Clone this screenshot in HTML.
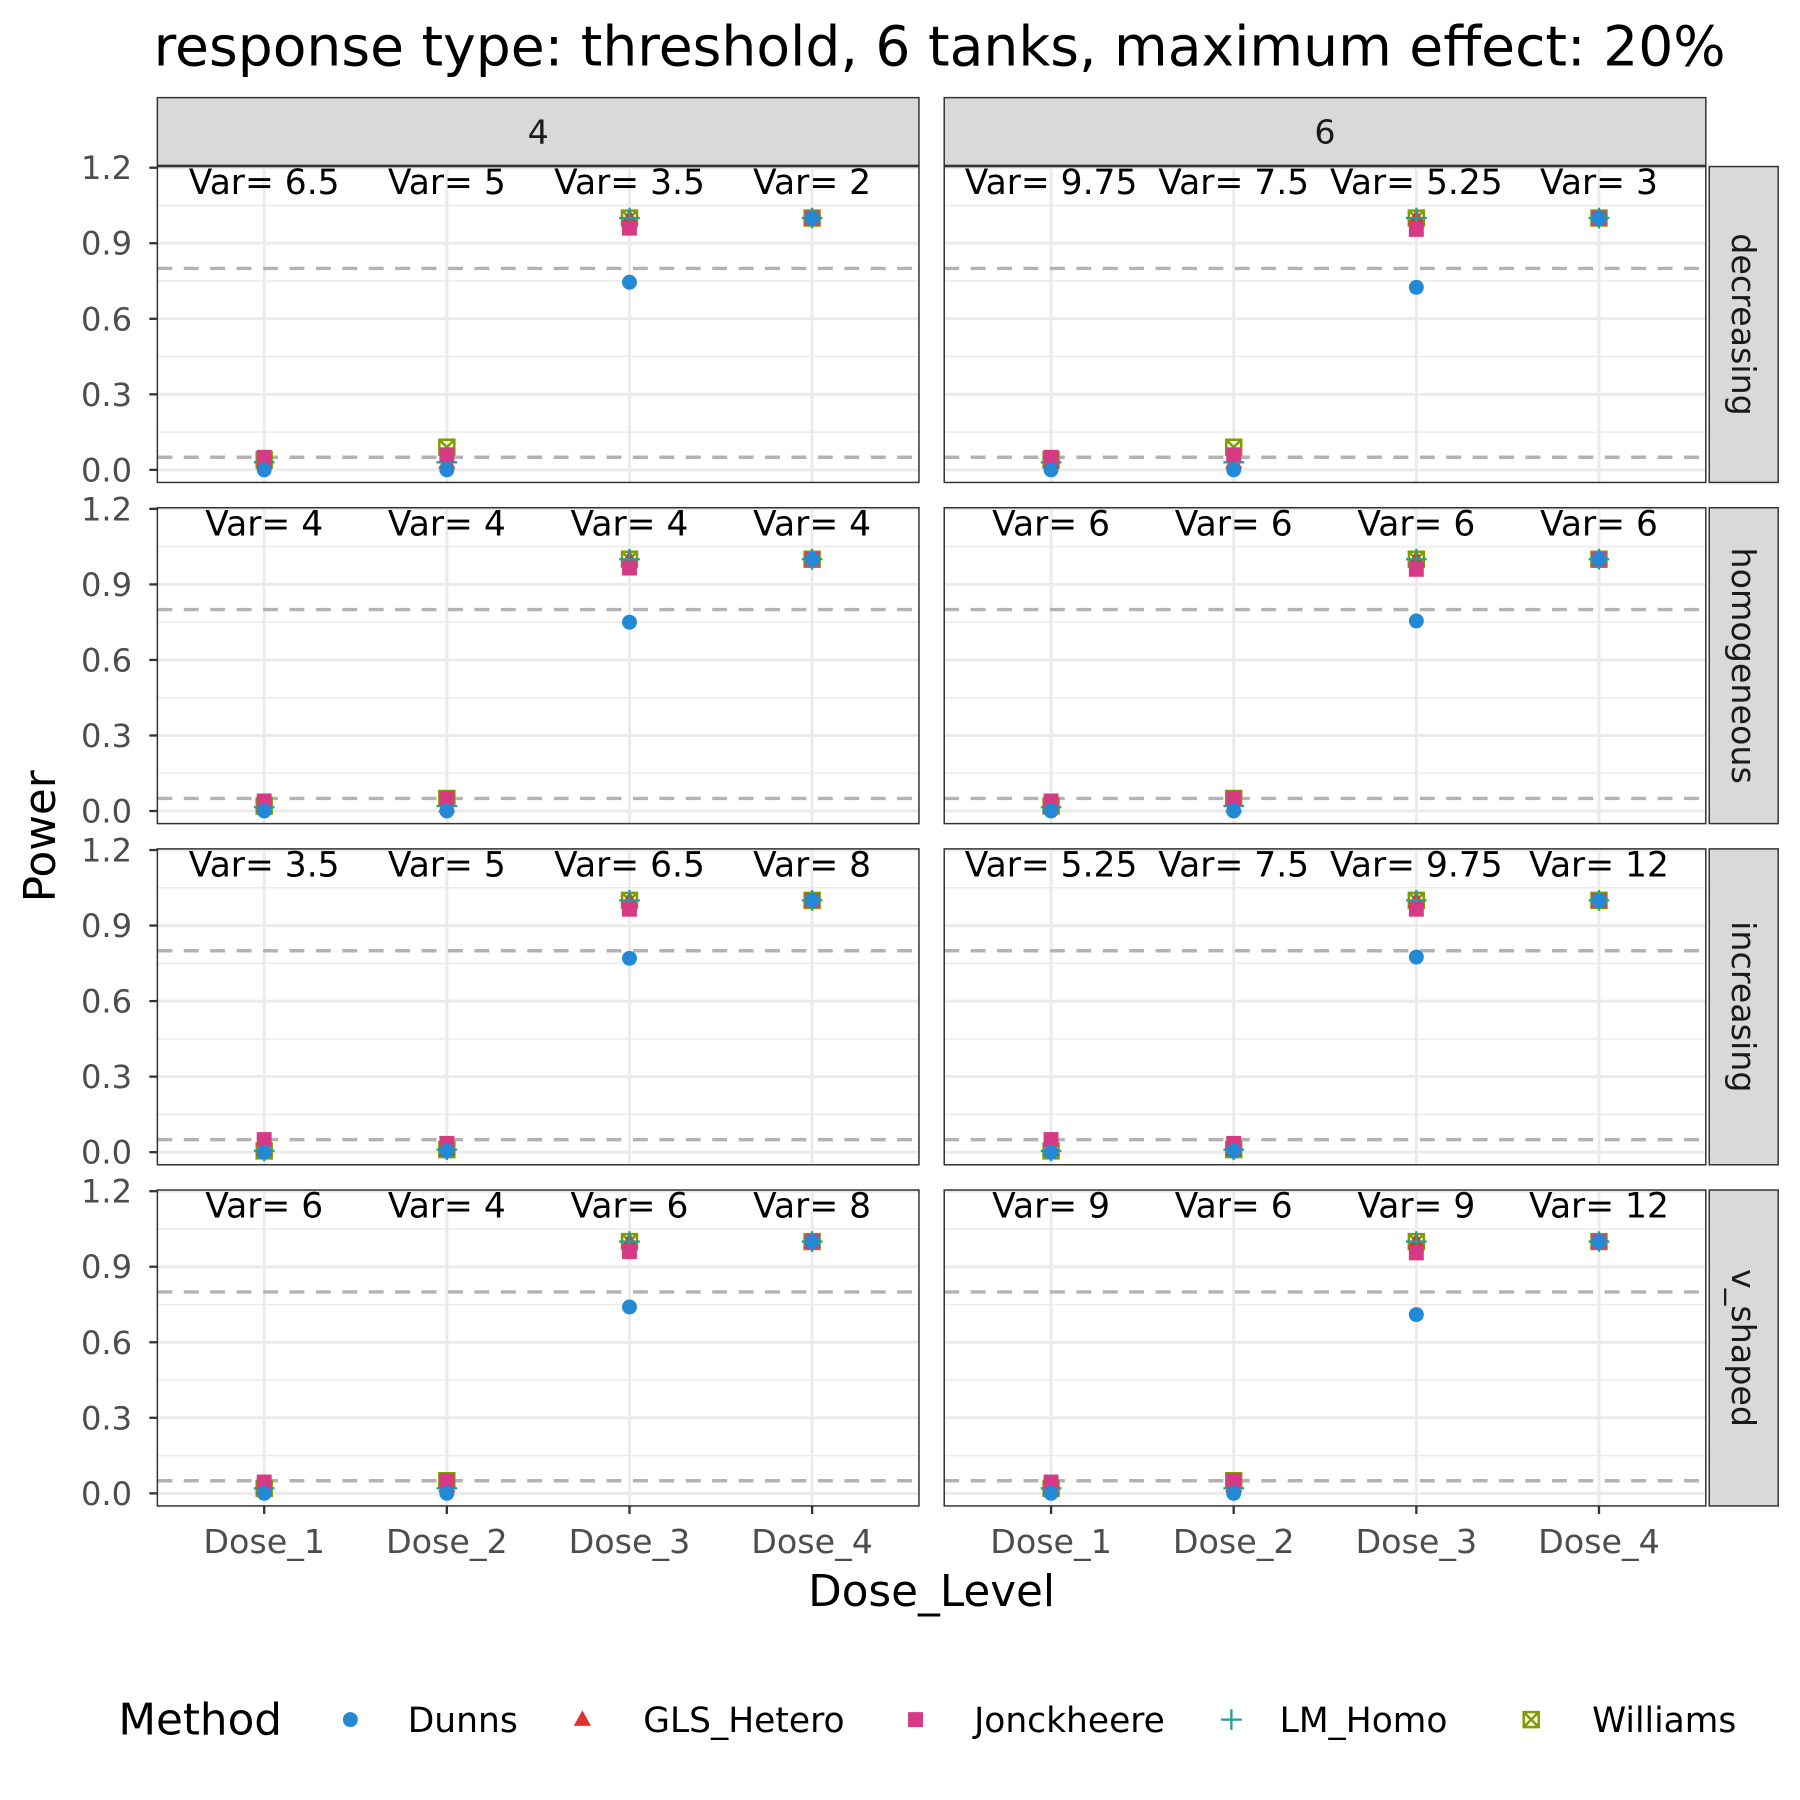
<!DOCTYPE html>
<html><head><meta charset="utf-8"><style>
html,body{margin:0;padding:0;background:#fff;}
svg{display:block;font-family:"DejaVu Sans","Liberation Sans",sans-serif;}
</style></head><body>
<svg id="chart" width="1800" height="1800" viewBox="0 0 1567 1567" xmlns="http://www.w3.org/2000/svg">
<text x="818" y="57" font-size="48" text-anchor="middle" fill="#000">response type: threshold, 6 tanks, maximum effect: 20%</text>
<text transform="translate(48,728) rotate(-90)" font-size="38" text-anchor="middle">Power</text>
<text x="811" y="1398" font-size="38" text-anchor="middle">Dose_Level</text>
<g id="panels"></g>
<g id="legend"></g>
</svg>
<script>
const doses = ["Dose_1","Dose_2","Dose_3","Dose_4"];
const colLabels = ["4","6"];
const rowLabels = ["decreasing","homogeneous","increasing","v_shaped"];
const yTicks = [0,0.3,0.6,0.9,1.2];
const yTickLabels = ["0.0","0.3","0.6","0.9","1.2"];
const yMinor = [0.15,0.45,0.75,1.05];
const refLines = [0.8,0.05];
// panel order: dec-4, dec-6, hom-4, hom-6, inc-4, inc-6, v-4, v-6
const varLabels = [
 ["Var= 6.5","Var= 5","Var= 3.5","Var= 2"],
 ["Var= 9.75","Var= 7.5","Var= 5.25","Var= 3"],
 ["Var= 4","Var= 4","Var= 4","Var= 4"],
 ["Var= 6","Var= 6","Var= 6","Var= 6"],
 ["Var= 3.5","Var= 5","Var= 6.5","Var= 8"],
 ["Var= 5.25","Var= 7.5","Var= 9.75","Var= 12"],
 ["Var= 6","Var= 4","Var= 6","Var= 8"],
 ["Var= 9","Var= 6","Var= 9","Var= 12"]
];
const dunns = [[0,0,0.745,1],[0,0,0.725,1],[0,0,0.75,1],[0,0,0.755,1],[0,0.005,0.77,1],[0,0.005,0.775,1],[0,0,0.74,1],[0,0,0.71,1]];
const glsHetero = [[0.03,0.03,1,1],[0.03,0.03,1,1],[0.02,0.02,1,1],[0.02,0.02,1,1],[0.01,0.01,1,1],[0.01,0.01,1,1],[0.02,0.03,1,1],[0.02,0.03,1,1]];
const jonckheere = [[0.05,0.06,0.96,1],[0.05,0.06,0.955,1],[0.04,0.05,0.965,1],[0.04,0.05,0.96,1],[0.05,0.035,0.965,1],[0.05,0.035,0.965,1],[0.045,0.05,0.96,1],[0.045,0.05,0.955,1]];
const lmHomo = [[0.03,0.03,1,1],[0.03,0.03,1,1],[0.015,0.02,1,1],[0.015,0.02,1,1],[0.005,0.01,1,1],[0.005,0.01,1,1],[0.02,0.02,1,1],[0.02,0.02,1,1]];
const williams = [[0.04,0.09,1,1],[0.04,0.09,1,1],[0.02,0.05,1,1],[0.02,0.05,1,1],[0.005,0.01,1,1],[0.005,0.01,1,1],[0.02,0.05,1,1],[0.02,0.05,1,1]];

const NS="http://www.w3.org/2000/svg";
function mk(tag,attrs,parent){const e=document.createElementNS(NS,tag);for(const k in attrs)e.setAttribute(k,attrs[k]);parent.appendChild(e);return e;}
const colX=[137,822], panelW=663, rowY=[145,442,739,1036], panelH=275;
function xScale(c,i){return colX[c]+93+i*159;}
function yScale(r,v){return rowY[r]+1+(1.2-v)*219.2;}
const COL={d:"#2389d5",g:"#e0322a",j:"#d63a84",l:"#22a095",w:"#7f9c00"};

function drawDot(g,x,y){const e=mk("circle",{cx:x,cy:y,r:6.5,fill:COL.d},g);}
function drawTri(g,x,y){const e=mk("polygon",{points:`${x},${y-8} ${x-7.5},${y+5.5} ${x+7.5},${y+5.5}`,fill:COL.g},g);}
function drawSq(g,x,y){const e=mk("rect",{x:x-6.5,y:y-6.5,width:13,height:13,fill:COL.j},g);}
function drawPlus(g,x,y){const e=mk("path",{d:`M${x-9},${y}H${x+9}M${x},${y-9}V${y+9}`,stroke:COL.l,"stroke-width":2,fill:"none"},g);}
function drawBox(g,x,y){const e=mk("path",{d:`M${x-6.5},${y-6.5}h13v13h-13zM${x-6.5},${y-6.5}L${x+6.5},${y+6.5}M${x+6.5},${y-6.5}L${x-6.5},${y+6.5}`,stroke:COL.w,"stroke-width":2.2,fill:"none"},g);}

const root=document.getElementById("panels");
for(let c=0;c<2;c++){
  const s=mk("g",{},root);
  
  
  mk("rect",{x:colX[c],y:85,width:panelW,height:59,fill:"#d9d9d9",stroke:"#333","stroke-width":1.3},s);
  mk("text",{x:colX[c]+panelW/2,y:125,"font-size":29,"text-anchor":"middle",fill:"#1a1a1a"},s).textContent=colLabels[c];
}
for(let r=0;r<4;r++){
  const s=mk("g",{},root);
  
  
  mk("rect",{x:1488,y:rowY[r],width:60,height:panelH,fill:"#d9d9d9",stroke:"#333","stroke-width":1.3},s);
  mk("text",{transform:`translate(1508,${rowY[r]+panelH/2}) rotate(90)`,"font-size":29,"text-anchor":"middle",fill:"#1a1a1a"},s).textContent=rowLabels[r];
  const ya=mk("g",{},root);
  
  
  yTicks.forEach((v,i)=>{
    const y=yScale(r,v);
    mk("line",{x1:130,x2:137,y1:y,y2:y,stroke:"#333","stroke-width":2},ya);
    mk("text",{x:115,y:y+10,"font-size":28,"text-anchor":"end",fill:"#4d4d4d"},ya).textContent=yTickLabels[i];
  });
  for(let c=0;c<2;c++){
    const p=r*2+c;
    const g=mk("g",{},root);
    
    
    mk("rect",{x:colX[c],y:rowY[r],width:panelW,height:panelH,fill:"#fff"},g);
    yMinor.forEach(v=>mk("line",{x1:colX[c],x2:colX[c]+panelW,y1:yScale(r,v),y2:yScale(r,v),stroke:"#ebebeb","stroke-width":1.3},g));
    yTicks.forEach(v=>mk("line",{x1:colX[c],x2:colX[c]+panelW,y1:yScale(r,v),y2:yScale(r,v),stroke:"#ebebeb","stroke-width":2.6},g));
    doses.forEach((d,i)=>mk("line",{x1:xScale(c,i),x2:xScale(c,i),y1:rowY[r],y2:rowY[r]+panelH,stroke:"#ebebeb","stroke-width":2.6},g));
    refLines.forEach(v=>{const l=mk("line",{x1:colX[c],x2:colX[c]+panelW,y1:yScale(r,v),y2:yScale(r,v),stroke:"#b3b3b3","stroke-width":3,"stroke-dasharray":"13,10"},g);});
    doses.forEach((d,i)=>{
      const x=xScale(c,i);
      const t=mk("text",{x:x,y:rowY[r]+24,"font-size":30,"text-anchor":"middle",fill:"#000"},g);
      
      
      t.textContent=varLabels[p][i];
      drawBox(g,x,yScale(r,williams[p][i]));
      drawTri(g,x,yScale(r,glsHetero[p][i]));
      drawPlus(g,x,yScale(r,lmHomo[p][i]));
      drawSq(g,x,yScale(r,jonckheere[p][i]));
      drawDot(g,x,yScale(r,dunns[p][i]));
    });
    mk("rect",{x:colX[c],y:rowY[r],width:panelW,height:panelH,fill:"none",stroke:"#333","stroke-width":1.3},g);
    if(r===3){
      const xa=mk("g",{},root);
      
      
      doses.forEach((d,i)=>{
        const x=xScale(c,i);
        mk("line",{x1:x,x2:x,y1:1311,y2:1318,stroke:"#333","stroke-width":2},xa);
        mk("text",{x:x,y:1352,"font-size":29,"text-anchor":"middle",fill:"#4d4d4d"},xa).textContent=d;
      });
    }
  }
}
const lg=document.getElementById("legend");
mk("text",{x:103,y:1510,"font-size":38,fill:"#000"},lg).textContent="Method";
const legendItems=[["Dunns",drawDot,305,355],["GLS_Hetero",drawTri,507,560],["Jonckheere",drawSq,797,848],["LM_Homo",drawPlus,1072,1114],["Williams",drawBox,1333,1386]];
legendItems.forEach(it=>{
  const g=mk("g",{},lg);
  
  
  it[1](g,it[2],1497);
  mk("text",{x:it[3],y:1508,"font-size":30,fill:"#000"},g).textContent=it[0];
});
</script>
</body></html>
